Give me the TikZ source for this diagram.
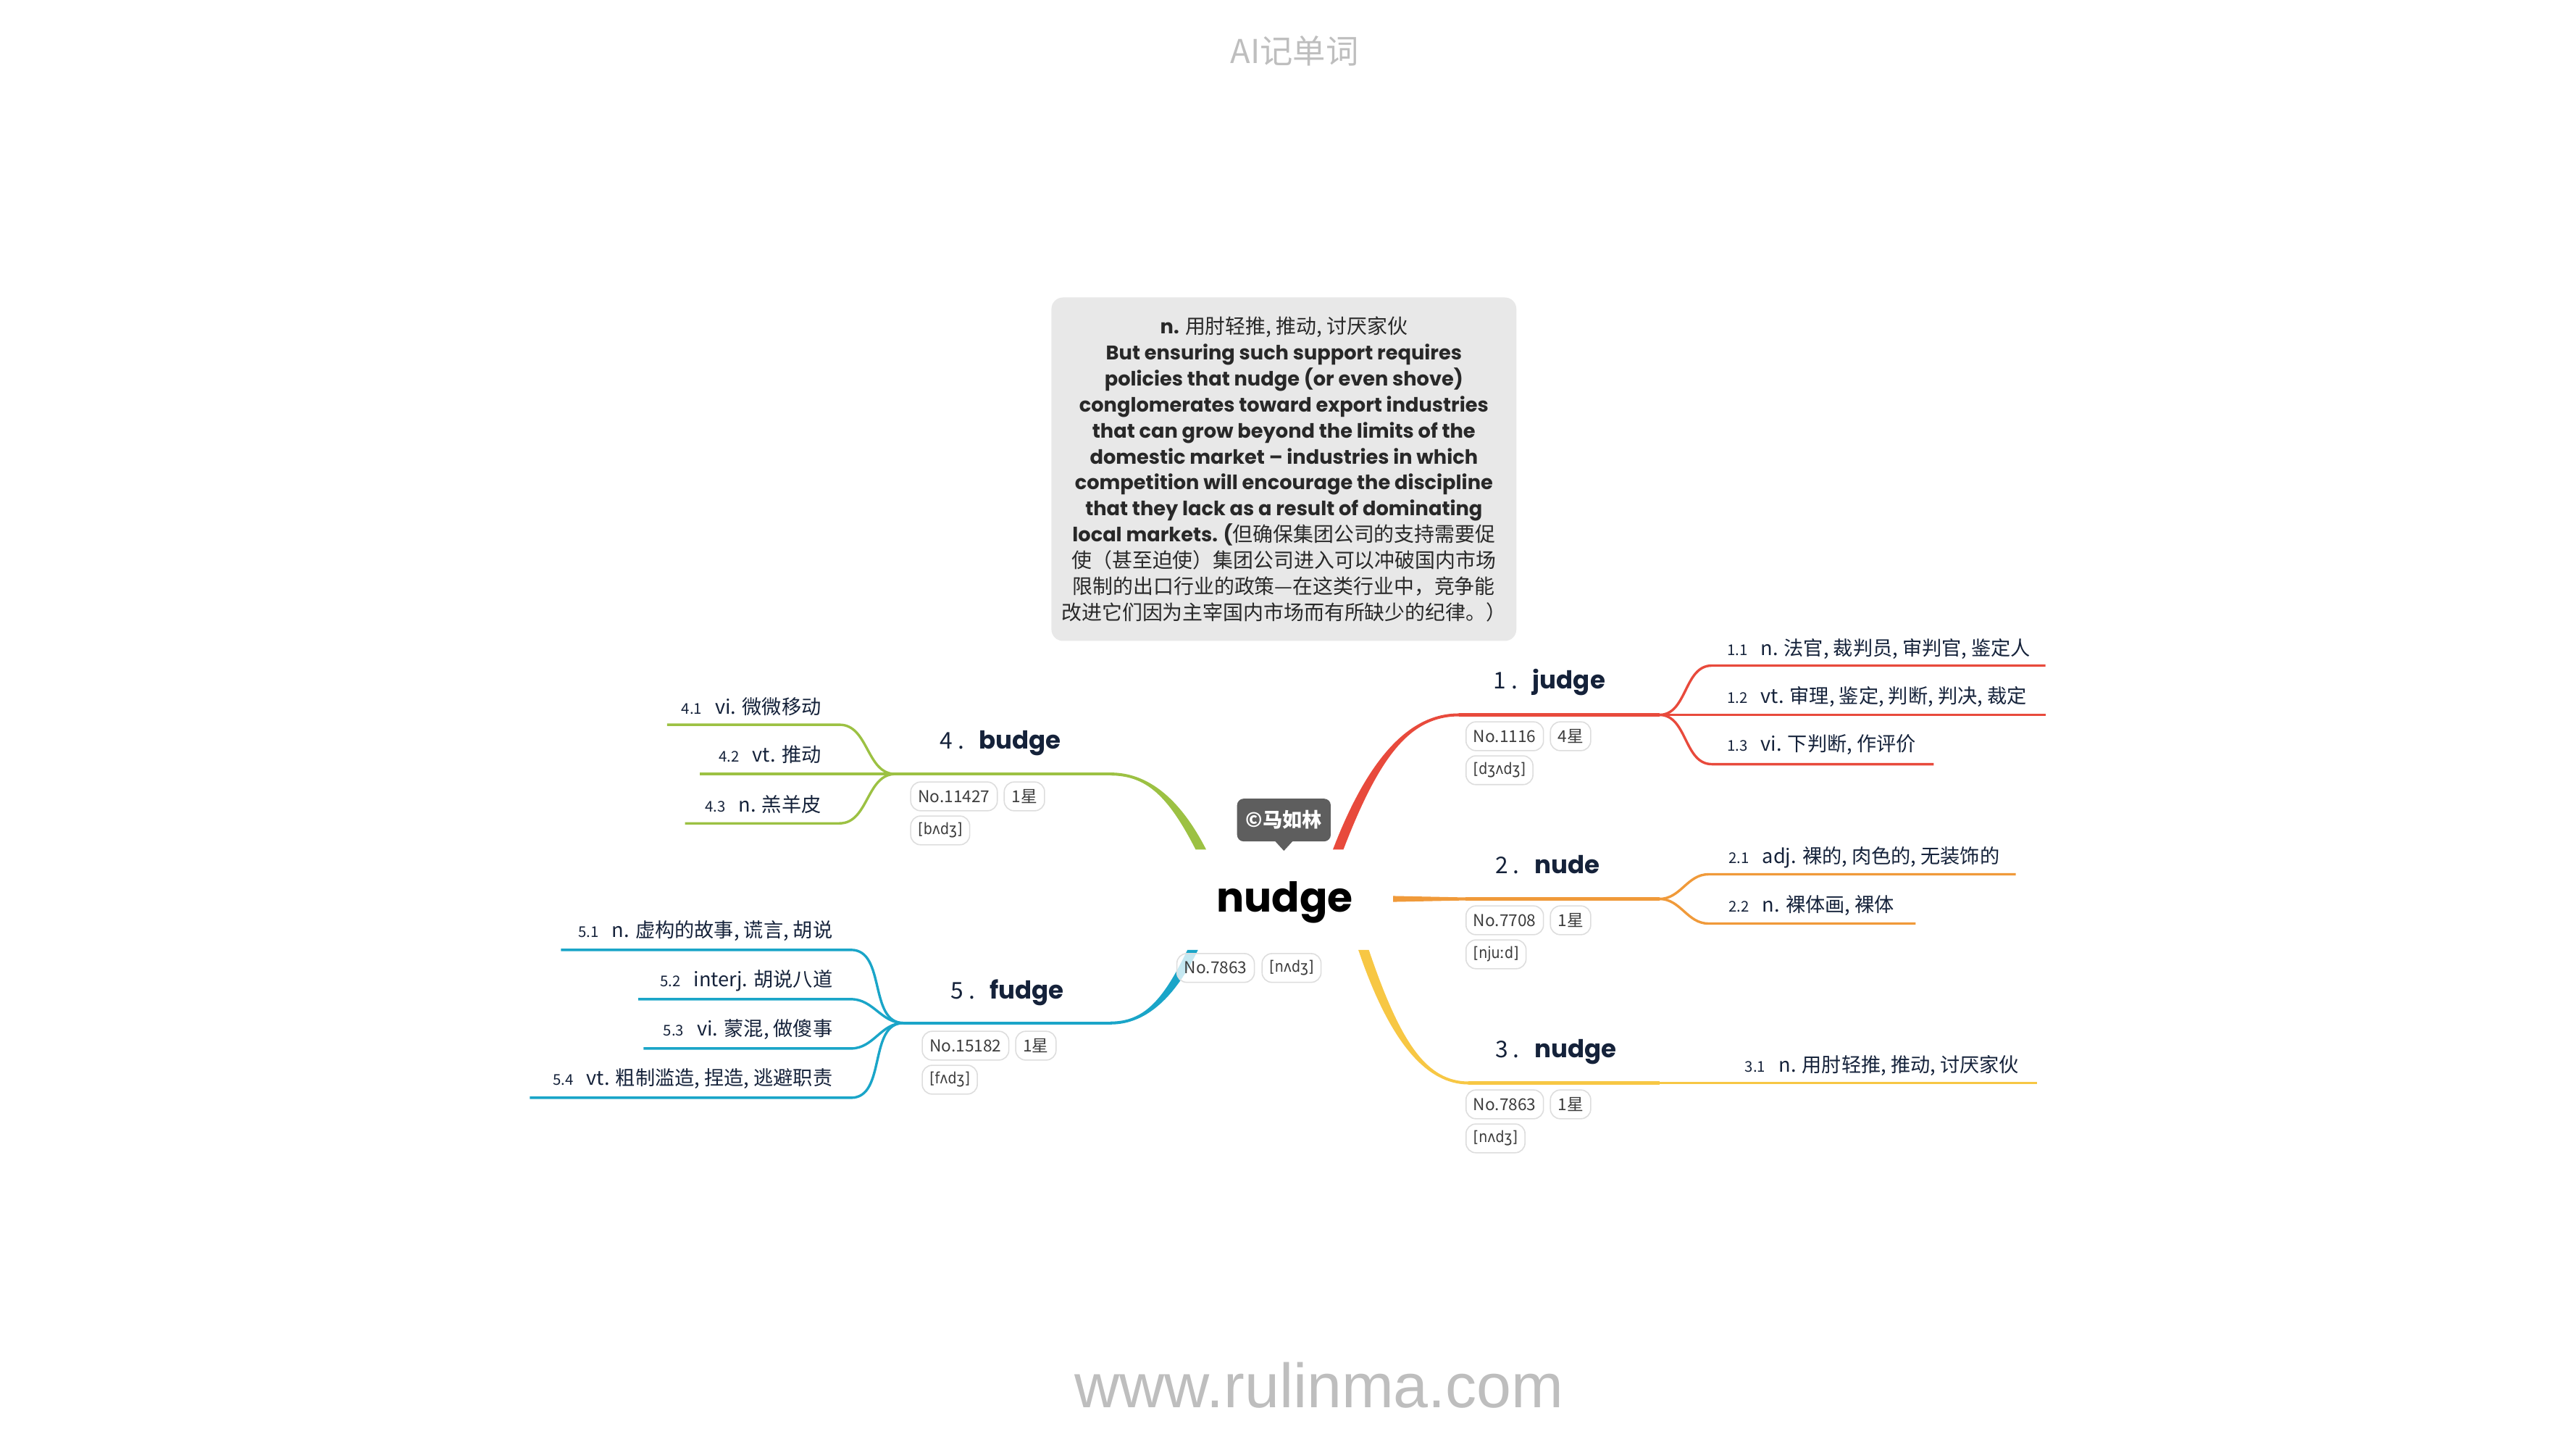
\documentclass[tikz,border=0pt]{standalone}
\usepackage{fontspec}
\setmainfont{Noto Sans CJK SC}
\newfontfamily\geo{Poppins}
\newfontfamily\ipafont[FakeStretch=0.88]{DejaVu Sans}
\newfontfamily\sitefont{Liberation Sans}
\usetikzlibrary{positioning, calc}
\definecolor{xRed}{RGB}{232,74,60}
\definecolor{xOrange}{RGB}{240,154,58}
\definecolor{xYellow}{RGB}{247,199,68}
\definecolor{xGreen}{RGB}{156,193,67}
\definecolor{xBlue}{RGB}{26,165,200}
\definecolor{xInk}{RGB}{21,34,58}
\definecolor{xPill}{RGB}{221,221,221}
\definecolor{xPillText}{RGB}{60,60,60}
\definecolor{xBox}{RGB}{232,232,232}
\definecolor{xBoxText}{RGB}{40,40,40}
\definecolor{xSign}{RGB}{94,94,94}
\definecolor{xFaint}{RGB}{190,190,190}
\newcommand{\fsz}[1]{\fontsize{#1}{#1}\selectfont}
\newcommand{\enb}{\geo\bfseries\fontsize{12}{15.8}\selectfont}
\tikzset{
  headword/.style={font=\geo\bfseries\fsz{25}, text=black, inner sep=0pt, anchor=base},
  word/.style={inner sep=0pt, text=xInk, anchor=base west},
  sense/.style={inner sep=0pt, text=xInk, font=\fsz{12}},
  tag/.style={draw=xPill, line width=0.7pt, fill=white, fill opacity=0.75, text opacity=1,
              rounded corners=6pt, font=\fsz{10}, text=xPillText, inner xsep=4.5pt, inner ysep=0pt,
              minimum height=17.5pt, anchor=west},
  ctx/.style={fill=xBox, rounded corners=7pt, minimum width=283pt, minimum height=209pt,
              inner sep=0pt, align=center, text=xBoxText, font=\fontsize{12.3}{15.8}\selectfont},
  signbox/.style={fill=xSign, text=white, font=\bfseries\fsz{12}, rounded corners=4pt,
              minimum width=57pt, minimum height=26pt, inner sep=0pt},
  trunk/.style={line width=1.8pt},
  twig/.style={line width=1.5pt},
}
\newcommand{\wordlabel}[2]{{\fsz{14}#1 .}\hspace{9pt}{\geo\bfseries\fsz{15}#2}}
\newcommand{\sensetext}[2]{{\fsz{9}#1}\hspace{8pt}#2}
% tapered stem from the centre word to the bend of a branch
\newcommand{\taper}[3]{%
  \fill[#1] let \p1=(#2), \p2=(#3), \n1={sign(\x2-\x1)}, \n2={sign(\y2-\y1)} in
    ({\x1-3.2pt*\n1},\y1) .. controls ({\x1+0.3*(\x2-\x1)-3.2pt*\n1},{\y1+0.7*(\y2-\y1)})
      and ({\x1+0.6*(\x2-\x1)},{\y2+0.9pt*\n2}) .. ({\x2},{\y2+0.9pt*\n2})
    -- ({\x2},{\y2-0.9pt*\n2}) .. controls ({\x1+0.6*(\x2-\x1)},{\y2-0.9pt*\n2})
      and ({\x1+0.3*(\x2-\x1)+3.2pt*\n1},{\y1+0.7*(\y2-\y1)}) .. ({\x1+3.2pt*\n1},\y1) -- cycle;%
}
\begin{document}
\begin{tikzpicture}[x=1pt, y=-1pt]
    \useasboundingbox (0,0) rectangle (1568,882);
    % branch points
    \coordinate (jr) at (814.5,517);  \coordinate (jb) at (888,435);  \coordinate (js) at (1010,435);
    \coordinate (j1a) at (1042,405);  \coordinate (j1b) at (1245,405);
    \coordinate (j2b) at (1245,435);
    \coordinate (j3a) at (1042,465);  \coordinate (j3b) at (1177,465);
    \coordinate (nr) at (848,547);    \coordinate (nb) at (892,547);  \coordinate (ns) at (1010,547);
    \coordinate (n1a) at (1040,532);  \coordinate (n1b) at (1227,532);
    \coordinate (n2a) at (1040,562);  \coordinate (n2b) at (1166,562);
    \coordinate (yr) at (830,578);    \coordinate (yb) at (894,659);  \coordinate (ys) at (1010,659);
    \coordinate (y1b) at (1240,659);
    \coordinate (gr) at (731,517);    \coordinate (gb) at (676,471);  \coordinate (gs) at (545,471);
    \coordinate (g1a) at (511,441);   \coordinate (g1b) at (406,441);
    \coordinate (g2b) at (426,471);
    \coordinate (g3a) at (511,501);   \coordinate (g3b) at (417,501);
    \coordinate (fr) at (726,578);    \coordinate (fb) at (676,622.5); \coordinate (fs) at (550,622.5);
    \coordinate (f1a) at (518,578);   \coordinate (f1b) at (341.5,578);
    \coordinate (f2a) at (518,608);   \coordinate (f2b) at (388.5,608);
    \coordinate (f3a) at (518,638);   \coordinate (f3b) at (391.7,638);
    \coordinate (f4a) at (518,668);   \coordinate (f4b) at (322.5,668);
    % stems
    \taper{xRed}{jr}{jb}
    \taper{xYellow}{yr}{yb}
    \taper{xGreen}{gr}{gb}
    \taper{xBlue}{fr}{fb}
    \fill[xOrange] ($(nr)+(0,-1.8)$) -- ($(nb)+(0,-0.9)$) -- ($(nb)+(0,0.9)$) -- ($(nr)+(0,1.8)$) -- cycle;
    \draw[trunk, xRed]    (jb) -- (js);
    \draw[trunk, xOrange] (nb) -- (ns);
    \draw[trunk, xYellow] (yb) -- (ys);
    \draw[trunk, xGreen]  (gb) -- (gs);
    \draw[trunk, xBlue]   (fb) -- (fs);
    % senses
    \draw[twig, xRed] (js) to[out=0, in=180] (j1a) -- (j1b);
    \draw[twig, xRed] (js) -- (j2b);
    \draw[twig, xRed] (js) to[out=0, in=180] (j3a) -- (j3b);
    \draw[twig, xOrange] (ns) to[out=0, in=180] (n1a) -- (n1b);
    \draw[twig, xOrange] (ns) to[out=0, in=180] (n2a) -- (n2b);
    \draw[twig, xYellow] (ys) -- (y1b);
    \draw[twig, xGreen] (gs) to[out=180, in=0] (g1a) -- (g1b);
    \draw[twig, xGreen] (gs) -- (g2b);
    \draw[twig, xGreen] (gs) to[out=180, in=0] (g3a) -- (g3b);
    \draw[twig, xBlue] (fs) to[out=180, in=0] (f1a) -- (f1b);
    \draw[twig, xBlue] (fs) to[out=180, in=0] (f2a) -- (f2b);
    \draw[twig, xBlue] (fs) to[out=180, in=0] (f3a) -- (f3b);
    \draw[twig, xBlue] (fs) to[out=180, in=0] (f4a) -- (f4b);

    \node[font=\fsz{20}, text=xFaint] (title) at (788,31) {AI记单词};
    \node[ctx] (ctx) at (781.5,285.5) {%
      {\enb n.} 用肘轻推, 推动, 讨厌家伙\\
      {\enb But ensuring such support requires}\\
      {\enb policies that nudge (or even shove)}\\
      {\enb conglomerates toward export industries}\\
      {\enb that can grow beyond the limits of the}\\
      {\enb domestic market – industries in which}\\
      {\enb competition will encourage the discipline}\\
      {\enb that they lack as a result of dominating}\\
      {\enb local markets. (}但确保集团公司的支持需要促\\
      使（甚至迫使）集团公司进入可以冲破国内市场\\
      限制的出口行业的政策—在这类行业中，竞争能\\
      改进它们因为主宰国内市场而有所缺少的纪律。）};
    \node[headword] (nudge) at (782,555) {nudge};
    \node[signbox] (sig) at (781.5,499) {©马如林};
    \fill[xSign] ($(sig.south)+(-5.5,-0.5)$) -- ($(sig.south)+(0,5.5)$) -- ($(sig.south)+(5.5,-0.5)$) -- cycle;
    \node[tag] (c-no) at (716,589) {No.7863};
    \node[tag, right=4pt of c-no] (c-ipa) {\ipafont\fsz{9.5}[nʌdʒ]};

    % 1 judge
    \node[word] (w1) at (909,419) {\wordlabel{1}{judge}};
    \node[tag] (j-no) at (892,448) {No.1116};
    \node[tag, right=3.5pt of j-no] (j-star) {4星\hspace{5pt}};
    \node[tag, below=2.5pt of j-no.south west, anchor=north west] (j-ipa) {\ipafont\fsz{9.5}[dʒʌdʒ]};
    \node[sense, anchor=base west] (s11) at (1051,399) {\sensetext{1.1}{n. 法官, 裁判员, 审判官, 鉴定人}};
    \node[sense, anchor=base west] (s12) at (1051,428) {\sensetext{1.2}{vt. 审理, 鉴定, 判断, 判决, 裁定}};
    \node[sense, anchor=base west] (s13) at (1051,457) {\sensetext{1.3}{vi. 下判断, 作评价}};
    % 2 nude
    \node[word] (w2) at (910,531.7) {\wordlabel{2}{nude}};
    \node[tag] (n-no) at (892,560) {No.7708};
    \node[tag, right=3.5pt of n-no] (n-star) {1星\hspace{5pt}};
    \node[tag, below=2.5pt of n-no.south west, anchor=north west] (n-ipa) {\ipafont\fsz{9.5}[njuːd]};
    \node[sense, anchor=base west] (s21) at (1052,525.5) {\sensetext{2.1}{adj. 裸的, 肉色的, 无装饰的}};
    \node[sense, anchor=base west] (s22) at (1052,555) {\sensetext{2.2}{n. 裸体画, 裸体}};
    % 3 nudge
    \node[word] (w3) at (910,643.7) {\wordlabel{3}{nudge}};
    \node[tag] (y-no) at (892,672) {No.7863};
    \node[tag, right=3.5pt of y-no] (y-star) {1星\hspace{5pt}};
    \node[tag, below=2.5pt of y-no.south west, anchor=north west] (y-ipa) {\ipafont\fsz{9.5}[nʌdʒ]};
    \node[sense, anchor=base west] (s31) at (1062,652.5) {\sensetext{3.1}{n. 用肘轻推, 推动, 讨厌家伙}};
    % 4 budge
    \node[word] (w4) at (572,455.6) {\wordlabel{4}{budge}};
    \node[tag] (g-no) at (554,484.6) {No.11427};
    \node[tag, right=3.5pt of g-no] (g-star) {1星\hspace{5pt}};
    \node[tag, below=2.5pt of g-no.south west, anchor=north west] (g-ipa) {\ipafont\fsz{9.5}[bʌdʒ]};
    \node[sense, anchor=base east] (s41) at (500,434.5) {\sensetext{4.1}{vi. 微微移动}};
    \node[sense, anchor=base east] (s42) at (500,463.8) {\sensetext{4.2}{vt. 推动}};
    \node[sense, anchor=base east] (s43) at (500,494) {\sensetext{4.3}{n. 羔羊皮}};
    % 5 fudge
    \node[word] (w5) at (578.5,607.7) {\wordlabel{5}{fudge}};
    \node[tag] (f-no) at (561,636.3) {No.15182};
    \node[tag, right=3.5pt of f-no] (f-star) {1星\hspace{5pt}};
    \node[tag, below=2.5pt of f-no.south west, anchor=north west] (f-ipa) {\ipafont\fsz{9.5}[fʌdʒ]};
    \node[sense, anchor=base east] (s51) at (507,570.3) {\sensetext{5.1}{n. 虚构的故事, 谎言, 胡说}};
    \node[sense, anchor=base east] (s52) at (507,600.5) {\sensetext{5.2}{interj. 胡说八道}};
    \node[sense, anchor=base east] (s53) at (507,630.5) {\sensetext{5.3}{vi. 蒙混, 做傻事}};
    \node[sense, anchor=base east] (s54) at (507,660.3) {\sensetext{5.4}{vt. 粗制滥造, 捏造, 逃避职责}};

    \node[font=\sitefont\fsz{38}, text=xFaint] (site) at (803,843) {www.rulinma.com};
\end{tikzpicture}
\end{document}
